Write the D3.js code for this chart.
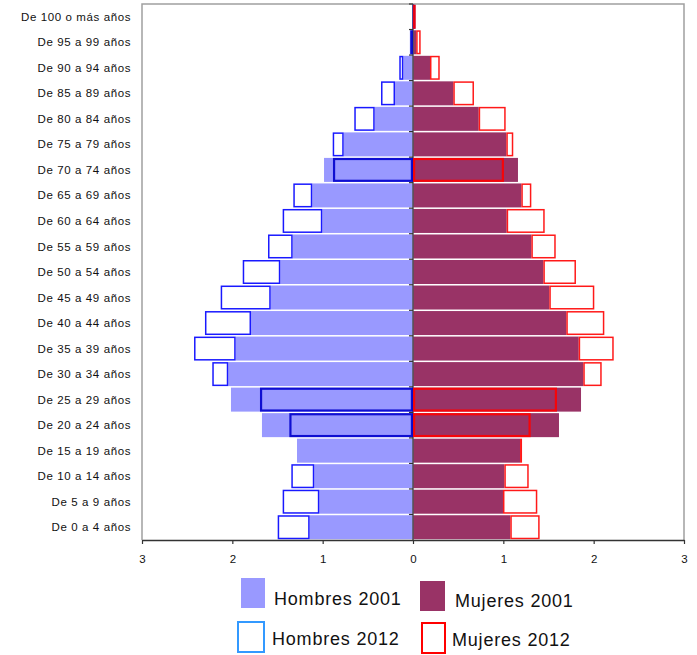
<!DOCTYPE html>
<html><head><meta charset="utf-8">
<script src="https://cdn.jsdelivr.net/npm/d3@7"></script>
<style>body{margin:0;background:#fff}svg{display:block}</style>
</head><body>
<svg id="c" width="697" height="655"></svg>
<script>
const categories = ["De 100 o más años","De 95 a 99 años","De 90 a 94 años","De 85 a 89 años","De 80 a 84 años","De 75 a 79 años","De 70 a 74 años","De 65 a 69 años","De 60 a 64 años","De 55 a 59 años","De 50 a 54 años","De 45 a 49 años","De 40 a 44 años","De 35 a 39 años","De 30 a 34 años","De 25 a 29 años","De 20 a 24 años","De 15 a 19 años","De 10 a 14 años","De 5 a 9 años","De 0 a 4 años"];
const hombres2001 = [0.005,0.035,0.107,0.199,0.424,0.767,0.985,1.115,1.004,1.332,1.469,1.575,1.793,1.963,2.045,2.015,1.672,1.284,1.093,1.037,1.144];
const hombres2012 = [0.004,0.03,0.152,0.354,0.650,0.889,0.886,1.325,1.443,1.605,1.885,2.129,2.303,2.424,2.222,1.694,1.369,1.284,1.347,1.443,1.498];
const mujeres2001 = [0.012,0.035,0.188,0.446,0.727,1.033,1.162,1.199,1.037,1.310,1.443,1.509,1.697,1.834,1.885,1.860,1.616,1.185,1.011,0.996,1.077];
const mujeres2012 = [0.010,0.085,0.296,0.675,1.026,1.110,1.007,1.310,1.458,1.580,1.804,2.007,2.118,2.222,2.089,1.594,1.303,1.200,1.281,1.376,1.402];
const tickValues = [-3,-2,-1,0,1,2,3];
const legendLabels = ["Hombres 2001","Mujeres 2001","Hombres 2012","Mujeres 2012"];

const svg = d3.select("#c");
const x = d3.scaleLinear().domain([-3,3]).range([142,684]);
const y = d3.scaleBand().domain(categories).range([4,540]).paddingInner(0.06).paddingOuter(0.03);
const full = d3.scaleBand().domain(categories).range([4,540]);
const font = "'Liberation Sans', Arial, sans-serif";

// plot frame
svg.append("path").attr("d",`M${x(-3)},540V${4}H${x(3)}V540`).attr("fill","none").attr("stroke","#a0a0a0").attr("stroke-width",1.5);

const rows = categories.map((c,i)=>({c,h1:hombres2001[i],h2:hombres2012[i],m1:mujeres2001[i],m2:mujeres2012[i]}));

// filled 2001 bars
svg.append("g").selectAll("rect").data(rows).join("rect")
  .attr("x",d=>x(-d.h1)).attr("width",d=>x(0)-x(-d.h1))
  .attr("y",d=>y(d.c)).attr("height",y.bandwidth()).attr("fill","#9999FF");
svg.append("g").selectAll("rect").data(rows).join("rect")
  .attr("x",x(0)).attr("width",d=>x(d.m1)-x(0))
  .attr("y",d=>y(d.c)).attr("height",y.bandwidth()).attr("fill","#993366");

// center axis with category ticks
svg.append("line").attr("x1",x(0)).attr("x2",x(0)).attr("y1",4).attr("y2",540).attr("stroke","#555").attr("stroke-width",1.5);
svg.append("g").selectAll("line").data(categories).join("line")
  .attr("x1",x(0)-4).attr("x2",x(0)).attr("y1",d=>full(d)).attr("y2",d=>full(d))
  .attr("stroke","#333").attr("stroke-width",1.2);

// 2012 outlines
function outline(v1,v2){
  if (v2 >= v1) return {a:v1,b:v2,thick:false};
  return {a:0,b:v2,thick:true};
}
const og = svg.append("g");
rows.forEach(d=>{
  [[d.h1,d.h2,-1,"#0000FF","#0000CC"],[d.m1,d.m2,1,"#FF0000","#FF0000"]].forEach(([v1,v2,s,col,col2])=>{
    if (Math.abs(v2-v1) < 1e-9) return;
    const o = outline(v1,v2);
    const xa = x(s*o.a), xb = x(s*o.b);
    const sw = o.thick ? 2.2 : 1.5;
    og.append("rect")
      .attr("x",Math.min(xa,xb)+sw/2).attr("width",Math.max(0.5,Math.abs(xb-xa)-sw))
      .attr("y",y(d.c)+sw/2).attr("height",y.bandwidth()-sw)
      .attr("fill","none").attr("stroke",o.thick?col2:col).attr("stroke-width",sw).attr("stroke-opacity",0.9);
  });
});

// bottom axis
const ax = svg.append("g").attr("transform","translate(0,540)")
  .call(d3.axisBottom(x).tickValues(tickValues).tickFormat(d=>Math.abs(d)).tickSize(4).tickPadding(11).tickSizeOuter(0));
ax.select(".domain").attr("stroke","#333").attr("stroke-width",1.5);
ax.selectAll(".tick line").attr("stroke","#333").attr("stroke-width",1.2);
ax.selectAll("text").attr("font-family",font).attr("font-size",11.5).attr("fill","#111");

// category labels
svg.append("g").selectAll("text").data(categories).join("text")
  .attr("x",131).attr("y",d=>full(d)+full.bandwidth()/2).attr("dy","0.35em")
  .attr("text-anchor","end").attr("font-family",font).attr("font-size",11.5)
  .attr("letter-spacing",0.6).attr("fill","#111").text(d=>d);

// legend
const leg = [
  {t:legendLabels[0],sx:241,sy:578,w:24,h:30,fill:"#9999FF",stroke:"none",tx:274,ty:605},
  {t:legendLabels[1],sx:420,sy:581,w:25,h:30,fill:"#993366",stroke:"none",tx:455,ty:607},
  {t:legendLabels[2],sx:238,sy:622,w:26,h:30,fill:"#fff",stroke:"#3399FF",tx:272,ty:645},
  {t:legendLabels[3],sx:422,sy:623,w:23,h:30,fill:"#fff",stroke:"#FF0000",tx:452,ty:646}
];
const lg = svg.append("g");
leg.forEach(l=>{
  lg.append("rect").attr("x",l.sx).attr("y",l.sy).attr("width",l.w).attr("height",l.h)
    .attr("fill",l.fill).attr("stroke",l.stroke).attr("stroke-width",2);
  lg.append("text").attr("x",l.tx).attr("y",l.ty).attr("font-family",font).attr("font-size",18)
    .attr("letter-spacing",0.8).attr("fill","#111").text(l.t);
});
</script>
</body></html>
